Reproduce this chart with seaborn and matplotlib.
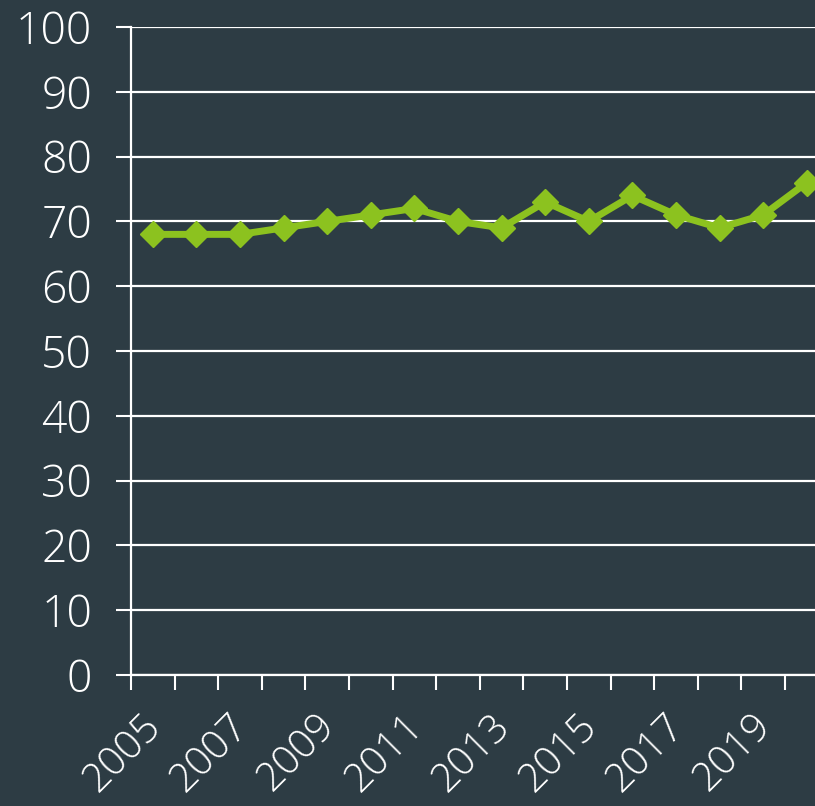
import matplotlib
matplotlib.use("Agg")
import matplotlib.pyplot as plt
import matplotlib.transforms as mtransforms
import seaborn as sns
import numpy as np
import pandas as pd

# data
years = [2005, 2006, 2007, 2008, 2009, 2010, 2011, 2012,
         2013, 2014, 2015, 2016, 2017, 2018, 2019, 2020]
values = [68, 68, 68, 69, 70, 71, 72, 70, 69, 73, 70, 74, 71, 69, 71, 76]
y_ticks = [0, 10, 20, 30, 40, 50, 60, 70, 80, 90, 100]

bg = "#2d3c44"
green = "#8cc21f"

sns.set_theme(style="dark")
plt.rcParams['font.family'] = ['Open Sans', 'DejaVu Sans']
plt.rcParams['font.weight'] = 'light'

df = pd.DataFrame({"pos": np.arange(len(years)), "value": values})

fig = plt.figure(figsize=(8.15, 8.06), dpi=100, facecolor=bg)
ax = fig.add_axes([0.1607, 0.1625, 0.8560, 0.8040])
ax.set_facecolor(bg)

ax.set_ylim(0, 100)
ax.set_xlim(-0.5, len(years) - 0.5)
ax.set_yticks(y_ticks)
ax.yaxis.grid(True, color="white", linewidth=1.6)
ax.xaxis.grid(False)
ax.set_axisbelow(True)

sns.lineplot(data=df, x="pos", y="value", ax=ax, color=green, linewidth=5,
             marker="D", markersize=13, markeredgecolor=green,
             markeredgewidth=1, zorder=3, clip_on=False)

# boundary ticks between categories, labels on every other category
ax.set_xticks(np.arange(len(years) + 1) - 0.5)
ax.set_xticklabels([])
ax.set_xticks(np.arange(0, len(years), 2), minor=True)
ax.set_xticklabels([str(y) for y in years[::2]], minor=True,
                   rotation=45, ha="right", rotation_mode="anchor")
ax.tick_params(axis="x", which="major", length=11, width=1.5,
               color="white", direction="out", bottom=True)
ax.tick_params(axis="x", which="minor", length=0, labelsize=29,
               labelcolor="white", pad=22)
ax.tick_params(axis="y", length=11, width=1.5, color="white",
               direction="out", left=True, labelsize=32,
               labelcolor="white", pad=17)

shift = mtransforms.ScaledTranslation(-12 / 100, 0, fig.dpi_scale_trans)
for lab in ax.get_xticklabels(minor=True):
    lab.set_transform(lab.get_transform() + shift)

for s in ["top", "right"]:
    ax.spines[s].set_visible(False)
for s in ["left", "bottom"]:
    ax.spines[s].set_visible(True)
    ax.spines[s].set_color("white")
    ax.spines[s].set_linewidth(1.6)

ax.set_xlabel("")
ax.set_ylabel("")

fig.savefig("out.png", dpi=100, facecolor=bg)
